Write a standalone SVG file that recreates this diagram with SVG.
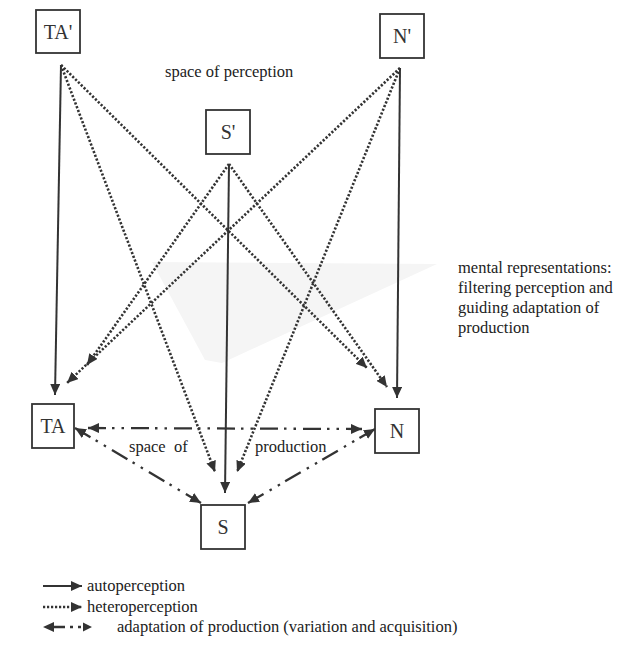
<svg xmlns="http://www.w3.org/2000/svg" width="617" height="645" viewBox="0 0 617 645">
<defs>
<marker id="arr" markerUnits="userSpaceOnUse" markerWidth="12" markerHeight="10" refX="11" refY="5" orient="auto-start-reverse">
<path d="M0,0 L11,5 L0,10 z" fill="#333"/>
</marker>
</defs>
<style>
.box{fill:#fff;stroke:#333;stroke-width:1.8}
.lbl{font-family:"Liberation Serif","DejaVu Serif",serif;font-size:20px;fill:#333;text-anchor:middle}
.txt{font-family:"Liberation Serif","DejaVu Serif",serif;font-size:16.5px;fill:#222}
.solid{fill:none;stroke:#333;stroke-width:2;marker-end:url(#arr)}
.dot{fill:none;stroke:#333;stroke-width:2.6;stroke-dasharray:2.2 1.8;marker-end:url(#arr)}
.prod{fill:none;stroke:#333;stroke-width:2.3;stroke-dasharray:18 6 2.5 7 2.5 7;marker-start:url(#arr);marker-end:url(#arr)}
</style>
<rect width="617" height="645" fill="#fff"/>
<polygon points="152,262 437,264 337,310 222,363 205,360" fill="#f5f5f5"/>
<g id="connectors">
<path class="solid" d="M61,65 L55,395"/>
<path class="solid" d="M229,164 L225,493"/>
<path class="solid" d="M400,68 L397,398"/>
<path class="dot" d="M61,65 L215,472"/>
<path class="dot" d="M61,65 L367,368"/>
<path class="dot" d="M229,164 L87,365"/>
<path class="dot" d="M229,164 L387,387"/>
<path class="dot" d="M400,68 L67,383"/>
<path class="dot" d="M400,68 L237,472"/>
<path class="prod" d="M88,428 L362,429"/>
<path class="prod" d="M75,428 L201,503"/>
<path class="prod" d="M375,429 L248,503"/>
</g>
<g id="TAp"><rect class="box" x="36" y="10" width="44" height="43"/><text class="lbl" x="58" y="39">TA'</text></g>
<g id="Sp"><rect class="box" x="206" y="110" width="44" height="44"/><text class="lbl" x="228" y="139">S'</text></g>
<g id="Np"><rect class="box" x="380" y="14" width="44" height="44"/><text class="lbl" x="402" y="43">N'</text></g>
<g id="TA"><rect class="box" x="32" y="404" width="42" height="44"/><text class="lbl" x="53" y="433">TA</text></g>
<g id="N"><rect class="box" x="375" y="409" width="44" height="44"/><text class="lbl" x="397" y="438">N</text></g>
<g id="S"><rect class="box" x="201" y="505" width="44" height="44"/><text class="lbl" x="223" y="534">S</text></g>
<g id="labels">
<text class="txt" x="165" y="77">space of perception</text>
<text class="txt" x="129" y="452" xml:space="preserve">space  of</text>
<text class="txt" x="255" y="452">production</text>
<text class="txt" x="458" y="273">mental representations:</text>
<text class="txt" x="458" y="293">filtering perception and</text>
<text class="txt" x="458" y="313">guiding adaptation of</text>
<text class="txt" x="458" y="333">production</text>
</g>
<g id="legend">
<path class="solid" d="M43,586 L82,586"/>
<path class="dot" d="M43,607 L82,607"/>
<path d="M54,627 L65,627 M70,627 L73,627 M78,627 L81,627" fill="none" stroke="#333" stroke-width="2.3"/>
<path d="M43,627 L54,622 L54,632 z M92,627 L83,622.5 L83,631.5 z" fill="#333"/>
<text class="txt" x="87" y="591">autoperception</text>
<text class="txt" x="87" y="612">heteroperception</text>
<text class="txt" x="117" y="632">adaptation of production (variation and acquisition)</text>
</g>
</svg>
